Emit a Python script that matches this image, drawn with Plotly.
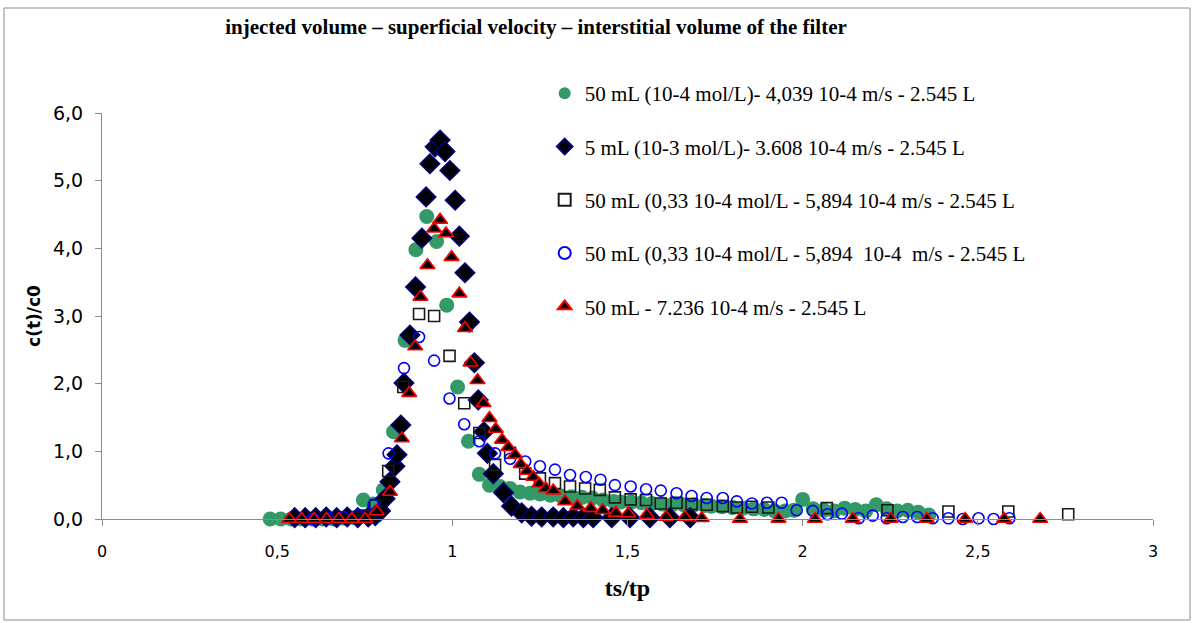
import plotly.graph_objects as go

# ---------------- data ----------------
green_x = [0.48, 0.51, 0.54, 0.57, 0.60, 0.63, 0.66, 0.69, 0.72, 0.746, 0.774, 0.803, 0.832, 0.865,
           0.896, 0.927, 0.955, 0.984, 1.015, 1.046, 1.077, 1.106, 1.136, 1.165, 1.193, 1.222,
           1.25, 1.28, 1.31, 1.34, 1.37, 1.40, 1.43, 1.46, 1.48, 1.51, 1.54, 1.57, 1.60, 1.63,
           1.66, 1.69, 1.72, 1.74, 1.77, 1.80, 1.83, 1.86, 1.89, 1.92, 1.95, 1.975, 2.00, 2.03,
           2.06, 2.09, 2.12, 2.15, 2.18, 2.21, 2.24, 2.27, 2.30, 2.33, 2.36]
green_y = [0.0, 0.0, 0.0, 0.0, 0.0, 0.0, 0.0, 0.01, 0.02, 0.28, 0.22, 0.43, 1.29, 2.64,
           3.98, 4.47, 4.10, 3.16, 1.95, 1.15, 0.66, 0.50, 0.48, 0.45, 0.40, 0.38,
           0.37, 0.35, 0.34, 0.33, 0.32, 0.31, 0.28, 0.26, 0.25, 0.25, 0.24, 0.23, 0.22, 0.22,
           0.21, 0.21, 0.20, 0.19, 0.18, 0.17, 0.16, 0.15, 0.14, 0.12, 0.12, 0.13, 0.29, 0.15,
           0.13, 0.12, 0.16, 0.14, 0.12, 0.21, 0.15, 0.12, 0.13, 0.10, 0.06]

diam_x = [0.55, 0.58, 0.61, 0.64, 0.67, 0.70, 0.73, 0.76, 0.78, 0.795, 0.808, 0.822, 0.836, 0.842,
          0.853, 0.862, 0.879, 0.895, 0.913, 0.925, 0.936, 0.951, 0.965, 0.979, 0.993, 1.008,
          1.020, 1.036, 1.049, 1.063, 1.074, 1.090, 1.100, 1.117, 1.146, 1.169, 1.198, 1.226,
          1.255, 1.288, 1.317, 1.345, 1.374, 1.402, 1.455, 1.507, 1.564, 1.621, 1.679]
diam_y = [0.02, 0.02, 0.02, 0.03, 0.02, 0.03, 0.02, 0.03, 0.05, 0.12, 0.30, 0.55, 0.78, 0.95,
          1.39, 2.01, 2.72, 3.43, 4.15, 4.76, 5.25, 5.50, 5.60, 5.43, 5.15, 4.71,
          4.18, 3.64, 2.91, 2.31, 1.76, 1.29, 0.97, 0.67, 0.39, 0.19, 0.09, 0.04,
          0.03, 0.03, 0.02, 0.03, 0.02, 0.02, 0.02, 0.02, 0.02, 0.02, 0.02]

sq_x = [0.745, 0.78, 0.817, 0.860, 0.905, 0.948, 0.992, 1.034, 1.077, 1.122, 1.165, 1.208, 1.250,
        1.293, 1.336, 1.379, 1.421, 1.464, 1.509, 1.553, 1.595, 1.640, 1.683, 1.726, 1.772,
        1.812, 1.855, 1.902, 2.069, 2.242, 2.416, 2.587, 2.758]
sq_y = [0.05, 0.20, 0.71, 1.95, 3.03, 3.00, 2.41, 1.71, 1.27, 0.80, 0.98, 0.67, 0.60,
        0.53, 0.48, 0.45, 0.43, 0.32, 0.29, 0.28, 0.23, 0.24, 0.22, 0.21, 0.19,
        0.17, 0.18, 0.17, 0.16, 0.13, 0.11, 0.11, 0.07]

blue_x = [0.603, 0.646, 0.689, 0.732, 0.775, 0.818, 0.862, 0.905, 0.948, 0.992, 1.034, 1.077,
          1.122, 1.165, 1.208, 1.250, 1.293, 1.336, 1.381, 1.423, 1.464, 1.509, 1.553, 1.595,
          1.640, 1.683, 1.726, 1.772, 1.812, 1.855, 1.898, 1.940, 1.983, 2.029, 2.071, 2.112,
          2.160, 2.200, 2.240, 2.286, 2.327, 2.371, 2.416, 2.457, 2.502, 2.545, 2.590]
blue_y = [0.0, 0.01, 0.03, 0.06, 0.21, 0.97, 2.23, 2.69, 2.34, 1.78, 1.40, 1.15,
          0.97, 0.89, 0.85, 0.78, 0.73, 0.65, 0.62, 0.58, 0.50, 0.48, 0.44, 0.42,
          0.38, 0.34, 0.31, 0.31, 0.26, 0.23, 0.24, 0.24, 0.13, 0.12, 0.07, 0.08,
          0.01, 0.05, 0.01, 0.03, 0.03, 0.01, 0.01, 0.0, 0.01, 0.0, 0.01]

tri_x = [0.535, 0.570, 0.605, 0.641, 0.676, 0.713, 0.751, 0.784, 0.822, 0.856, 0.877, 0.894,
         0.909, 0.929, 0.948, 0.965, 0.982, 0.998, 1.020, 1.036, 1.052, 1.072, 1.089, 1.106,
         1.124, 1.142, 1.160, 1.179, 1.195, 1.213, 1.231, 1.248, 1.267, 1.288, 1.322, 1.357,
         1.395, 1.429, 1.467, 1.502, 1.555, 1.610, 1.664, 1.712, 1.821, 1.931, 2.035, 2.143,
         2.251, 2.354, 2.464, 2.575, 2.678]
tri_y = [0.0, 0.0, 0.0, 0.0, 0.0, 0.0, 0.0, 0.11, 0.40, 1.19, 1.86, 2.55,
         3.28, 3.75, 4.29, 4.42, 4.22, 3.87, 3.33, 2.82, 2.31, 2.05, 1.71, 1.49,
         1.33, 1.17, 1.06, 0.95, 0.81, 0.71, 0.62, 0.52, 0.45, 0.42, 0.26, 0.19,
         0.16, 0.13, 0.09, 0.08, 0.06, 0.03, 0.03, 0.01, 0.0, 0.0, 0.0, 0.0,
         0.0, 0.0, 0.0, 0.0, 0.0]

labels = [
    "50 mL (10-4 mol/L)- 4,039 10-4 m/s - 2.545 L",
    "5 mL (10-3 mol/L)- 3.608 10-4 m/s - 2.545 L",
    "50 mL (0,33 10-4 mol/L - 5,894 10-4 m/s - 2.545 L",
    "50 mL (0,33 10-4 mol/L - 5,894  10-4  m/s - 2.545 L",
    "50 mL - 7.236 10-4 m/s - 2.545 L",
]
x_ticks = [0, 0.5, 1, 1.5, 2, 2.5, 3]
x_tick_text = ["0", "0,5", "1", "1,5", "2", "2,5", "3"]
y_ticks = [0, 1, 2, 3, 4, 5, 6]
y_tick_text = ["0,0", "1,0", "2,0", "3,0", "4,0", "5,0", "6,0"]

title = "injected volume \u2013 superficial velocity \u2013 interstitial volume of the filter"

# ---------------- figure ----------------
fig = go.Figure()

styles = [
    dict(symbol="circle", size=15, color="#339966", line=dict(width=0, color="#339966")),
    dict(symbol="diamond", size=15, color="#000000", line=dict(width=1.5, color="#000080")),
    dict(symbol="square-open", size=11, color="#1a1a1a", line=dict(width=1.6, color="#1a1a1a")),
    dict(symbol="circle-open", size=11, color="#0000ff", line=dict(width=1.6, color="#0000ff")),
    dict(symbol="triangle-up", size=13, color="#000000", line=dict(width=1.6, color="#ff0000")),
]
series = [(green_x, green_y), (diam_x, diam_y), (sq_x, sq_y), (blue_x, blue_y), (tri_x, tri_y)]

for i, ((xs, ys), st, lab) in enumerate(zip(series, styles, labels)):
    fig.add_trace(go.Scatter(
        x=xs, y=ys, mode="markers", name=lab, marker=st,
        legendgroup=f"g{i}", cliponaxis=False,
    ))

fig.update_layout(
    width=1195, height=623,
    plot_bgcolor="white", paper_bgcolor="white",
    margin=dict(l=102, r=42, t=113, b=104),
    title=dict(text=title, x=536 / 1195, y=1 - 27 / 623, xanchor="center", yanchor="middle",
               font=dict(family="Liberation Serif", size=21, color="black", weight="bold")),
    legend=dict(x=0.4212, y=1.0985, xanchor="left", yanchor="top",
                font=dict(family="Liberation Serif", size=21, color="black"),
                tracegroupgap=23, bgcolor="rgba(0,0,0,0)", itemsizing="constant"),
    xaxis=dict(range=[0, 3], tickvals=x_ticks, ticktext=x_tick_text, showgrid=False, zeroline=False,
               showline=True, linecolor="#8c8c8c", linewidth=1, ticks="outside", ticklen=6,
               tickcolor="#8c8c8c", ticklabelstandoff=12,
               tickfont=dict(family="DejaVu Sans", size=16, color="black"),
               title=dict(text="<b>ts/tp</b>", standoff=18,
                          font=dict(family="Liberation Serif", size=24, color="black"))),
    yaxis=dict(range=[0, 6], tickvals=y_ticks, ticktext=y_tick_text, showgrid=False, zeroline=False,
               showline=True, linecolor="#8c8c8c", linewidth=1, ticks="outside", ticklen=6,
               tickcolor="#8c8c8c", ticklabelstandoff=8,
               tickfont=dict(family="DejaVu Sans", size=19, color="black"),
               title=dict(text="<b>c(t)/c0</b>", standoff=8,
                          font=dict(family="DejaVu Sans", size=17, color="black"))),
    shapes=[dict(type="rect", xref="paper", yref="paper",
                 x0=(4 - 102) / 1051, x1=(1190 - 102) / 1051,
                 y0=(519 - 620) / 406, y1=(519 - 8) / 406,
                 line=dict(color="#8c8c8c", width=1), fillcolor="rgba(0,0,0,0)", layer="below")],
)

fig.write_html("out.html")
